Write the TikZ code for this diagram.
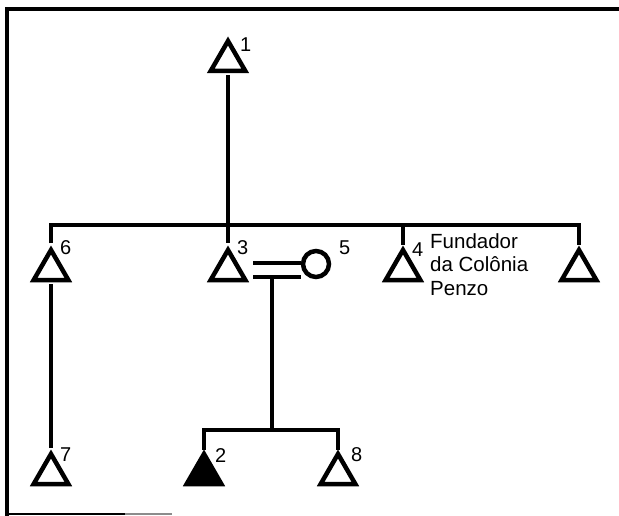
\documentclass[tikz,border=0pt]{standalone}
\usepackage{fontspec}
\setmainfont{Liberation Sans}
\usetikzlibrary{shapes.geometric}
\tikzset{
  male/.style={regular polygon, regular polygon sides=3, draw, line width=4.5pt, minimum size=40pt, inner sep=0pt},
  female/.style={circle, draw, line width=4.5pt, minimum size=26pt, inner sep=0pt},
  num/.style={font=\fontsize{20}{20}\selectfont, inner sep=0pt, anchor=west},
  note/.style={font=\fontsize{20.5}{23.5}\selectfont, inner sep=0pt, align=left, anchor=north west},
  tie/.style={line width=4.5pt},
}
\begin{document}
\begin{tikzpicture}[x=1pt,y=-1pt]
  \useasboundingbox (0,0) rectangle (619,516);
  % frame
  \draw[line width=4.5pt] (7,516) -- (7,9) -- (619,9);
  \draw[line width=2pt] (7,514) -- (125,514);
  \draw[line width=1.5pt, black!45] (125,514) -- (172,514);
  % people
  \node[male] (t1) at (228,61) {};
  \node[male] (t6) at (51,270) {};
  \node[male] (t3) at (228,270) {};
  \node[female] (c5) at (316,264) {};
  \node[male] (t4) at (403,270) {};
  \node[male] (t9) at (579,270) {};
  \node[male] (t7) at (51,474) {};
  \node[male, fill=black] (t2) at (204,474) {};
  \node[male] (t8) at (338,474) {};
  % numbers
  \node[num] at ([shift={(12,-16)}]t1.center) {1};
  \node[num] at ([shift={(9,-22)}]t6.center) {6};
  \node[num] at ([shift={(9,-22)}]t3.center) {3};
  \node[num] at ([shift={(23,-16)}]c5.center) {5};
  \node[num] at ([shift={(9,-20)}]t4.center) {4};
  \node[num] at ([shift={(9,-19)}]t7.center) {7};
  \node[num] at ([shift={(11,-18)}]t2.center) {2};
  \node[num] at ([shift={(13,-19)}]t8.center) {8};
  \node[note] (fnd) at ([shift={(27,-37)}]t4.center) {Fundador\\da Colônia\\Penzo};
  % lines
  \coordinate (sib) at (0,225);
  \coordinate (kid) at (0,430);
  \coordinate (m1) at ([shift={(25,-7)}]t3.center);
  \coordinate (m2) at ([shift={(25,7)}]t3.center);
  \coordinate (dsc) at ([shift={(44,7)}]t3.center);
  \draw[tie, shorten <=2pt, shorten >=2pt] (t1.south) -- (t3.north);
  \draw[tie, shorten <=2pt] (t6.north) -- (t6.north |- sib) -- (t9.north |- sib) -- (t9.north);
  \draw[tie] (t4.north |- sib) -- (t4.north);
  \draw[tie] (m1) -- (m1 -| c5.west);
  \draw[tie] (m2) -- (m2 -| c5.west);
  \draw[tie, shorten <=2pt, shorten >=2pt] (t6.south) -- (t7.north);
  \draw[tie] (dsc) -- (dsc |- kid);
  \draw[tie] (t2.north) -- (t2.north |- kid) -- (t8.north |- kid) -- (t8.north);
\end{tikzpicture}
\end{document}
